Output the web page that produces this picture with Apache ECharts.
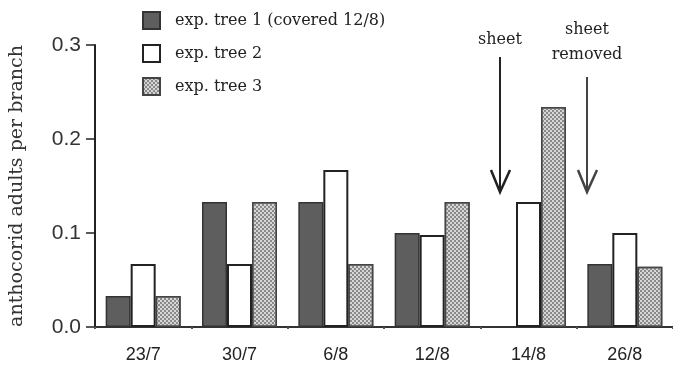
<!DOCTYPE html>
<html>
<head>
<meta charset="utf-8">
<script src="https://cdn.jsdelivr.net/npm/echarts@6/dist/echarts.min.js"></script>
<style>
html,body{margin:0;padding:0;background:#fff;}
#chart{width:673px;height:370px;}
</style>
</head>
<body>
<div id="chart"></div>
<script>
var categories = ['23/7', '30/7', '6/8', '12/8', '14/8', '26/8'];
var tree1 = [0.033, 0.133, 0.133, 0.100, 0, 0.067];
var tree2 = [0.067, 0.067, 0.167, 0.098, 0.133, 0.100];
var tree3 = [0.033, 0.133, 0.067, 0.133, 0.234, 0.064];
var seriesNames = ['exp. tree 1 (covered 12/8)', 'exp. tree 2', 'exp. tree 3'];
var yTicks = [0, 0.1, 0.2, 0.3];

var serif = 'DejaVu Serif';
var chart = echarts.init(document.getElementById('chart'), null, {renderer: 'canvas'});

var option = {
  animation: false,
  backgroundColor: '#fff',
  grid: {left: 93, top: 45, width: 582, bottom: 43},
  legend: {
    orient: 'vertical',
    left: 137,
    top: 6,
    itemWidth: 17,
    itemHeight: 17,
    itemGap: 14,
    icon: 'rect',
    textStyle: {fontFamily: serif, fontSize: 16, color: '#222', padding: [0, 0, 0, 10], lineHeight: 17},
    data: seriesNames
  },
  xAxis: {
    type: 'category',
    data: categories,
    axisLine: {lineStyle: {color: '#333', width: 2}},
    axisTick: {show: true, length: 2, lineStyle: {color: '#555', width: 2}},
    axisLabel: {fontFamily: 'Liberation Sans', fontSize: 18, color: '#222', margin: 19}
  },
  yAxis: {
    type: 'value',
    min: 0,
    max: 0.3,
    interval: 0.1,
    name: 'anthocorid adults per branch',
    nameLocation: 'middle',
    nameGap: 68,
    nameTextStyle: {fontFamily: serif, fontSize: 19, color: '#333'},
    splitLine: {show: false},
    axisLine: {show: true, lineStyle: {color: '#222', width: 2}},
    axisTick: {show: true, length: 9, lineStyle: {color: '#222', width: 1.5}},
    axisLabel: {
      fontFamily: 'Liberation Sans', fontSize: 21, color: '#333', margin: 14,
      formatter: function (v) { return v.toFixed(1); }
    }
  },
  series: [
    {
      name: seriesNames[0], type: 'bar', data: tree1, barWidth: 25, barGap: '0%',
      itemStyle: {color: '#5e5e5e', borderColor: '#333', borderWidth: 1.5}
    },
    {
      name: seriesNames[1], type: 'bar', data: tree2, barWidth: 25, barGap: '0%',
      itemStyle: {color: '#fff', borderColor: '#222', borderWidth: 2}
    },
    {
      name: seriesNames[2], type: 'bar', data: tree3, barWidth: 25, barGap: '0%',
      itemStyle: {
        color: '#d6d6d6', borderColor: '#444', borderWidth: 1.5,
        decal: {symbol: 'rect', symbolSize: 1, color: '#8a8a8a', dashArrayX: [[2, 2], [0, 2, 2, 0]], dashArrayY: [2, 0]}
      }
    }
  ],
  graphic: [
    {type: 'text', x: 500, y: 40, style: {text: 'sheet', align: 'center', verticalAlign: 'middle', font: '16px "DejaVu Serif"', fill: '#222'}},
    {type: 'line', shape: {x1: 500, y1: 57, x2: 500, y2: 191}, style: {stroke: '#222', lineWidth: 2}},
    {type: 'polyline', shape: {points: [[491, 170], [500, 192], [510, 170]]}, style: {stroke: '#222', lineWidth: 2.5, fill: null}},
    {type: 'text', x: 587, y: 42, style: {text: 'sheet\nremoved', align: 'center', verticalAlign: 'middle', lineHeight: 25, font: '16px "DejaVu Serif"', fill: '#222'}},
    {type: 'line', shape: {x1: 587, y1: 77, x2: 587, y2: 191}, style: {stroke: '#444', lineWidth: 2}},
    {type: 'polyline', shape: {points: [[578, 170], [587, 192], [597, 170]]}, style: {stroke: '#444', lineWidth: 2.5, fill: null}}
  ]
};
chart.setOption(option);
</script>
</body>
</html>
